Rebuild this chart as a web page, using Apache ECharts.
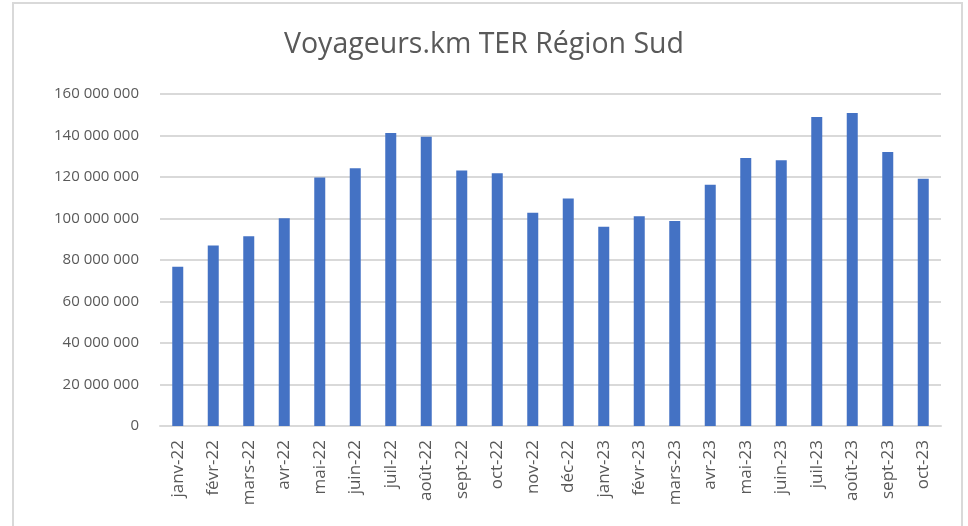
<!DOCTYPE html>
<html>
<head>
<meta charset="utf-8">
<script src="https://cdn.jsdelivr.net/npm/echarts@6/dist/echarts.min.js"></script>
<style>
  html, body { margin: 0; padding: 0; background: #fff; }
  #chart { width: 968px; height: 526px; }
</style>
</head>
<body>
<div id="chart"></div>
<script>
// mois (axe des catégories)
const months = [
  "janv-22", "févr-22", "mars-22", "avr-22", "mai-22", "juin-22",
  "juil-22", "août-22", "sept-22", "oct-22", "nov-22", "déc-22",
  "janv-23", "févr-23", "mars-23", "avr-23", "mai-23", "juin-23",
  "juil-23", "août-23", "sept-23", "oct-23",
];

// voyageurs.km
const voyageursKm = [
  76700000, 87000000, 91500000, 100100000, 119700000, 124200000,
  141200000, 139400000, 123100000, 121800000, 102800000, 109600000,
  96000000, 101100000, 98800000, 116300000, 129200000, 128100000,
  148900000, 150800000, 132100000, 119100000,
];

const fmt = (v) => String(v).replace(/\B(?=(\d{3})+(?!\d))/g, " ");

const chart = echarts.init(document.getElementById("chart"));
chart.setOption({
  animation: false,
  title: {
    text: "Voyageurs.km TER Région Sud",
    left: "center",
    top: 25,
    textStyle: {
      fontFamily: "Open Sans",
      fontSize: 28.5,
      fontWeight: "normal",
      color: "#595959",
    },
  },
  graphic: [
    {
      type: "rect",
      shape: { x: 13, y: 3, width: 949, height: 580 },
      style: { fill: "none", stroke: "#d9d9d9", lineWidth: 2 },
      silent: true,
    },
  ],
  grid: { left: 160, right: 27, top: 94, bottom: 100 },
  xAxis: {
    type: "category",
    data: months,
    axisLine: { lineStyle: { color: "#d9d9d9", width: 2 } },
    axisTick: { show: false },
    axisLabel: {
      rotate: 90,
      interval: 0,
      margin: 14,
      fontFamily: "Open Sans",
      fontSize: 17,
      color: "#595959",
    },
  },
  yAxis: {
    type: "value",
    min: 0,
    max: 160000000,
    interval: 20000000,
    axisLine: { show: false },
    axisTick: { show: false },
    splitLine: { lineStyle: { color: "#d9d9d9", width: 2 } },
    axisLabel: {
      formatter: fmt,
      margin: 21,
      fontFamily: "Open Sans",
      fontSize: 15,
      color: "#595959",
    },
  },
  series: [
    {
      type: "bar",
      data: voyageursKm,
      barWidth: 11,
      itemStyle: { color: "#4472c4" },
    },
  ],
});
</script>
</body>
</html>
